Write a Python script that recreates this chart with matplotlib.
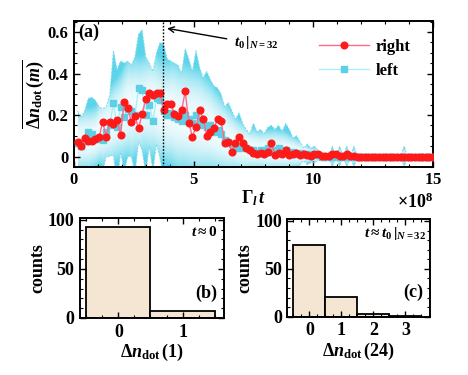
import numpy as np
import matplotlib
matplotlib.use("Agg")
import matplotlib.pyplot as plt
from matplotlib.patches import PathPatch
from matplotlib.colors import to_rgb
from matplotlib.ticker import MultipleLocator

plt.rcParams['font.family'] = ['Liberation Serif', 'DejaVu Serif']
plt.rcParams['font.weight'] = 'bold'
plt.rcParams['mathtext.fontset'] = 'custom'
plt.rcParams['mathtext.rm'] = 'Liberation Serif:bold'
plt.rcParams['mathtext.it'] = 'Liberation Serif:italic:bold'
plt.rcParams['mathtext.bf'] = 'Liberation Serif:bold'
plt.rcParams['axes.linewidth'] = 1.4

# time grid (units of 1e8), 100 samples
t = np.arange(1, 101) * 0.15e8

right = [0.071, 0.052, 0.087, 0.076, 0.076, 0.084, 0.092, 0.167, 0.095, 0.167,
         0.156, 0.175, 0.103, 0.265, 0.235, 0.165, 0.195, 0.135, 0.206, 0.275,
         0.305, 0.297, 0.305, 0.305, 0.225, 0.254, 0.254, 0.203, 0.194, 0.222,
         0.314, 0.163, 0.095, 0.143, 0.222, 0.183, 0.100, 0.119, 0.138, 0.179,
         0.171, 0.063, 0.071, 0.024, 0.063, 0.092, 0.063, 0.040, 0.029, 0.016,
         0.011, 0.019, 0.011, 0.024, 0.063, 0.006, 0.019, 0.013, 0.029, 0.006,
         0.013, 0.016, 0.006, 0.013, 0.006, 0.003, 0.010, 0.010, 0.002, 0.003,
         0.002, 0.010, 0.010, 0.002, 0.002, 0.010, 0.002, 0.002, 0.0, 0.0,
         0.0, 0.0, 0.0, 0.0, 0.0, 0.0, 0.0, 0.0, 0.0, 0.0,
         0.0, 0.0, 0.0, 0.0, 0.0, 0.0, 0.0, 0.0, 0.0, 0.0]

left = [0.065, 0.05, 0.075, 0.12, 0.11, 0.09, 0.085, 0.08, 0.12, 0.15,
        0.26, 0.14, 0.24, 0.19, 0.23, 0.22, 0.20, 0.33, 0.32, 0.20,
        0.25, 0.17, 0.28, 0.27, 0.22, 0.20, 0.21, 0.19, 0.18, 0.17,
        0.20, 0.18, 0.16, 0.20, 0.17, 0.15, 0.14, 0.15, 0.12, 0.13,
        0.11, 0.08, 0.07, 0.06, 0.05, 0.04, 0.05, 0.04, 0.03, 0.03,
        0.02, 0.03, 0.02, 0.04, 0.02, 0.03, 0.04, 0.02, 0.03, 0.02,
        0.02, 0.01, 0.015, 0.01, 0.01, 0.005, 0.01, 0.005, 0.0, 0.0,
        0.0, 0.0, 0.0, 0.0, 0.0, 0.0, 0.0, 0.0, 0.0, 0.0,
        0.0, 0.0, 0.0, 0.0, 0.0, 0.0, 0.0, 0.0, 0.0, 0.0,
        0.0, 0.0, 0.0, 0.0, 0.0, 0.0, 0.0, 0.0, 0.0, 0.0]

# upper edge of the left-lead spread (left + std)
left_upper = [0.22, 0.19, 0.22, 0.28, 0.285, 0.27, 0.24, 0.23, 0.24, 0.30,
              0.51, 0.42, 0.46, 0.45, 0.46, 0.44, 0.48, 0.59, 0.61, 0.48,
              0.45, 0.41, 0.50, 0.55, 0.54, 0.47, 0.46, 0.45, 0.44, 0.40,
              0.52, 0.47, 0.41, 0.51, 0.43, 0.38, 0.41, 0.37, 0.34, 0.33,
              0.30, 0.24, 0.26, 0.22, 0.18, 0.21, 0.16, 0.13, 0.11, 0.16,
              0.12, 0.13, 0.11, 0.14, 0.15, 0.13, 0.15, 0.12, 0.16, 0.13,
              0.09, 0.10, 0.07, 0.04, 0.06, 0.04, 0.05, 0.03, 0.0, 0.0,
              0.0, 0.05, 0.0, 0.05, 0.0, 0.05, 0.0, 0.05, 0.0, 0.0,
              0.0, 0.0, 0.0, 0.0, 0.0, 0.0, 0.0, 0.0, 0.0, 0.0,
              0.0, 0.05, 0.0, 0.0, 0.0, 0.0, 0.0, 0.0, 0.0, 0.0]

t0 = 3.73e8

# histograms
cat_b = [0, 1]
counts_b = [93, 7]
cat_c = [0, 1, 2, 3]
counts_c = [75, 21, 3, 1]

left = np.array(left)
spread = np.array(left_upper) - left
lower = left - spread
upper = left + spread

fig = plt.figure(figsize=(4.68, 3.75), dpi=100)
ax = fig.add_axes([0.158, 0.555, 0.767, 0.39])

# shaded spread: light near the mean, cyan toward the edges (smoothed for the shading only)
cyan = np.array(to_rgb('#5cd4ea'))
poly = ax.fill_between(t, lower, upper, facecolor='none', edgecolor='none')
kern = np.ones(9) / 9
mid_s = np.convolve(np.pad(left, 4, mode='edge'), kern, mode='valid')
sp_s = np.convolve(np.pad(spread, 4, mode='edge'), kern, mode='valid')
xg = np.linspace(t[0], t[-1], 900)
yg = np.linspace(-0.2, 0.7, 500)
X, Y = np.meshgrid(xg, yg)
mid = np.interp(xg, t, mid_s)
sp = np.maximum(np.interp(xg, t, sp_s), 0.04)
frac = np.clip(np.abs(Y - mid) / sp, 0, 1)
w = 0.08 + 0.92 * frac ** 2.2
img = (1 - w[..., None]) * np.ones(3) + w[..., None] * cyan
im = ax.imshow(img, extent=[xg[0], xg[-1], yg[0], yg[-1]], origin='lower',
               aspect='auto', interpolation='bilinear', zorder=1)
clip = PathPatch(poly.get_paths()[0], transform=ax.transData, facecolor='none', edgecolor='none')
ax.add_patch(clip)
im.set_clip_path(clip)

ax.plot(t, upper, color='#7fdcec', lw=0.7, ls=(0, (2, 1.5)), zorder=2)
ax.plot(t, lower, color='#7fdcec', lw=0.7, ls=(0, (2, 1.5)), zorder=2)

ax.plot(t, left, color='#a6f0fa', lw=1.0, marker='s', ms=3.8, mfc='#5fcfe6',
        mec='#5fcfe6', label='left', zorder=3)
ax.plot(t, right, color='#ff6a8a', lw=1.0, marker='o', ms=4.8, mfc='#ff1a1a',
        mec='#ff1a1a', label='right', zorder=4)

ax.axvline(t0, color='black', ls=(0, (1.2, 1.2)), lw=1.0, zorder=5)
ax.annotate('', xy=(t0 + 0.05e8, 0.62), xytext=(6.5e8, 0.565),
            arrowprops=dict(arrowstyle='->', color='black', lw=1.0))
ax.text(6.7e8, 0.535, r'$t_0\,|_{N=32}$', fontsize=11)
ax.text(0.2e8, 0.575, '(a)', fontsize=13, fontweight='bold')

ax.set_xlim(0, 15e8)
ax.set_ylim(-0.05, 0.655)
ax.set_xticks([0, 5e8, 10e8, 15e8])
ax.set_yticks([0, 0.2, 0.4, 0.6])
ax.set_yticklabels(['0', '0.2', '0.4', '0.6'])
ax.xaxis.set_minor_locator(MultipleLocator(1e8))
ax.yaxis.set_minor_locator(MultipleLocator(0.05))
ax.ticklabel_format(axis='x', style='sci', scilimits=(8, 8), useMathText=True)
ax.xaxis.get_offset_text().set_fontsize(13)
ax.tick_params(which='both', direction='in', top=True, right=True, labelsize=12, pad=4)
ax.tick_params(which='major', length=4, width=1)
ax.tick_params(which='minor', length=2.5, width=0.8)
ax.set_xlabel(r'$\Gamma_l\, t$', fontsize=13, labelpad=0)
ax.set_ylabel(r'$\overline{\Delta n_{\mathrm{dot}}\,(m)}$', fontsize=13, labelpad=2)

h, l = ax.get_legend_handles_labels()
ax.legend(h[::-1], l[::-1], loc='upper right', bbox_to_anchor=(0.98, 0.98),
          frameon=False, fontsize=12, handlelength=3, handletextpad=0.4,
          labelspacing=0.5)

bar_kw = dict(width=1.0, color='#f5e6d3', edgecolor='black', linewidth=1.3)

axb = fig.add_axes([0.171, 0.152, 0.308, 0.267])
axb.bar(cat_b, counts_b, **bar_kw)
axb.set_xlim(-0.6, 1.65)
axb.set_ylim(0, 102)
axb.set_xticks(cat_b)
axb.set_yticks([0, 50, 100])
axb.text(0.95, 0.86, r'$t \approx 0$', transform=axb.transAxes, ha='right', va='center', fontsize=11)
axb.text(0.95, 0.25, '(b)', transform=axb.transAxes, ha='right', va='center', fontsize=13, fontweight='bold')
axb.set_xlabel(r'$\Delta n_{\mathrm{dot}}\,(1)$', fontsize=13, labelpad=1)
axb.set_ylabel('counts', fontsize=13, labelpad=1, fontweight='bold')

axc = fig.add_axes([0.614, 0.155, 0.305, 0.261])
axc.bar(cat_c, counts_c, **bar_kw)
axc.set_xlim(-0.69, 3.77)
axc.set_ylim(0, 102)
axc.set_xticks(cat_c)
axc.set_yticks([0, 50, 100])
axc.text(0.97, 0.85, r'$t \approx t_0\,|_{N=32}$', transform=axc.transAxes, ha='right', va='center', fontsize=11)
axc.text(0.95, 0.25, '(c)', transform=axc.transAxes, ha='right', va='center', fontsize=13, fontweight='bold')
axc.set_xlabel(r'$\Delta n_{\mathrm{dot}}\,(24)$', fontsize=13, labelpad=1)
axc.set_ylabel('counts', fontsize=13, labelpad=1, fontweight='bold')

for a in (axb, axc):
    a.xaxis.set_minor_locator(MultipleLocator(0.25))
    a.yaxis.set_minor_locator(MultipleLocator(10))
    a.tick_params(which='both', direction='in', top=True, right=True, labelsize=13, pad=4)
    a.tick_params(which='major', length=4, width=1)
    a.tick_params(which='minor', length=2.5, width=0.8)
    for lab in a.get_xticklabels() + a.get_yticklabels():
        lab.set_fontweight('bold')

for lab in ax.get_xticklabels() + ax.get_yticklabels():
    lab.set_fontweight('bold')

fig.savefig('out.png', dpi=100)
